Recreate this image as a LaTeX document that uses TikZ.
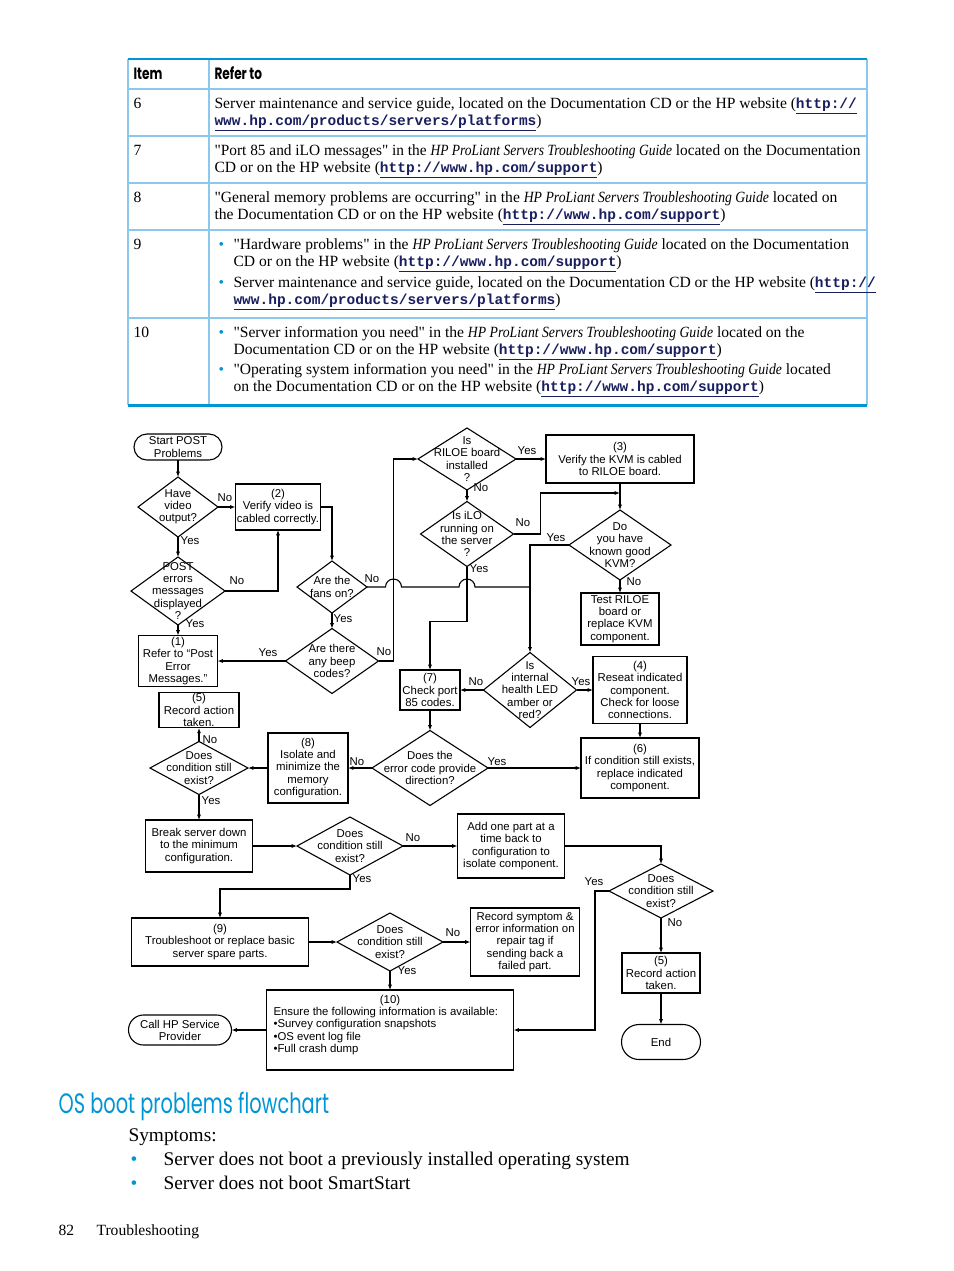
\documentclass[tikz,border=0pt]{standalone}
\usepackage{fontspec}
\usepackage{graphicx}
\usepackage{xcolor}
\setmainfont{Liberation Serif}[Ligatures=TeXOff]
\newfontfamily\flowfont{Liberation Sans}
\newfontfamily\urlfont{Liberation Mono}
\newfontfamily\headfont{Poppins}
\usetikzlibrary{arrows.meta, shapes.geometric}

\definecolor{hpblue}{RGB}{0,150,214}
\definecolor{hpline}{RGB}{140,200,235}
\definecolor{urlblue}{RGB}{25,30,95}
\newcommand{\pxu}{0.6414pt}
\newcommand{\hpurl}[1]{{\urlfont\bfseries\fontsize{9.3}{11}\selectfont\color{urlblue}\underline{#1}}}
\newcommand{\hpguide}{\textit{\scalebox{0.88}[1]{HP ProLiant Servers Troubleshooting Guide}}}
\newcommand{\hpbul}{{\color{hpblue}\textbullet}}

\tikzset{every picture/.style={x=\pxu,y=-\pxu,line width=0.7pt}}
\tikzset{
  flow/.style={font=\flowfont\fontsize{7.3}{7.8}\selectfont, align=center, inner sep=1pt},
  box/.style 2 args={flow, draw, rectangle, outer sep=0pt, minimum width=#1*\pxu, minimum height=#2*\pxu},
  term/.style 2 args={box={#1}{#2}, rounded corners=#2*0.32pt},
  dia/.style n args={3}{diamond, draw, inner sep=0pt, outer sep=0pt, minimum width=#1*\pxu, minimum height=#2*\pxu, label={[flow]center:#3}},
  yesno/.style={flow, inner sep=0pt},
  arr/.style={-{Latex[length=3.4pt,width=2.6pt]}},
  tbl/.style={anchor=base west, inner sep=0pt, font=\fontsize{10}{12}\selectfont},
  tblhead/.style={anchor=base west, inner sep=0pt, font=\headfont\bfseries\fontsize{10.5}{12}\selectfont},
  tblrule/.style={hpline, line width=1.5*\pxu},
  page/.style={anchor=base west, inner sep=0pt, font=\fontsize{12.4}{15}\selectfont}
}

\begin{document}
\begin{tikzpicture}
  \fill[white] (0,0) rectangle (954,1271);
  \useasboundingbox (0,0) rectangle (954,1271);

  % Table of references
  \foreach \y in {89,136,183,230,318} \draw[tblrule] (128,\y) -- (867,\y);
  \foreach \x in {128,209,867} \draw[tblrule] (\x,59) -- (\x,405);
  \draw[hpblue, line width=2.5*\pxu] (128,59) -- (867,59);
  \draw[hpblue, line width=3*\pxu] (128,405) -- (867,405);

  \node[tblhead] (h_item) at (133,79) {\scalebox{0.74}[1]{Item}};
  \node[tblhead] (h_refer) at (214,79) {\scalebox{0.74}[1]{Refer to}};

  \node[tbl] (n6) at (133,108) {6};
  \node[tbl] (r6a) at (214,108) {Server maintenance and service guide, located on the Documentation CD or the HP website (\hpurl{http://}};
  \node[tbl] (r6b) at (214,125) {\hpurl{www.hp.com/products/servers/platforms})};

  \node[tbl] (n7) at (133,155) {7};
  \node[tbl] (r7a) at (214,155) {\scalebox{0.985}[1]{"Port 85 and iLO messages" in the \hpguide{} located on the Documentation}};
  \node[tbl] (r7b) at (214,172) {CD or on the HP website (\hpurl{http://www.hp.com/support})};

  \node[tbl] (n8) at (133,202) {8};
  \node[tbl] (r8a) at (214,202) {"General memory problems are occurring" in the \hpguide{} located on};
  \node[tbl] (r8b) at (214,219) {the Documentation CD or on the HP website (\hpurl{http://www.hp.com/support})};

  \node[tbl] (n9) at (133,249) {9};
  \node[tbl] (b9a) at (218,249) {\hpbul};
  \node[tbl] (r9a) at (233,249) {"Hardware problems" in the \hpguide{} located on the Documentation};
  \node[tbl] (r9b) at (233,266) {CD or on the HP website (\hpurl{http://www.hp.com/support})};
  \node[tbl] (b9b) at (218,287) {\hpbul};
  \node[tbl] (r9c) at (233,287) {Server maintenance and service guide, located on the Documentation CD or the HP website (\hpurl{http://}};
  \node[tbl] (r9d) at (233,304) {\hpurl{www.hp.com/products/servers/platforms})};

  \node[tbl] (n10) at (133,337) {10};
  \node[tbl] (b10a) at (218,337) {\hpbul};
  \node[tbl] (r10a) at (233,337) {"Server information you need" in the \hpguide{} located on the};
  \node[tbl] (r10b) at (233,354) {Documentation CD or on the HP website (\hpurl{http://www.hp.com/support})};
  \node[tbl] (b10b) at (218,374) {\hpbul};
  \node[tbl] (r10c) at (233,374) {"Operating system information you need" in the \hpguide{} located};
  \node[tbl] (r10d) at (233,391) {on the Documentation CD or on the HP website (\hpurl{http://www.hp.com/support})};

  % Flowchart nodes
  \node[term={88}{26}] (start) at (178,447) {Start POST\\Problems};
  \node[dia={80}{60}{Have\\video\\output?}] (d_video) at (178,507) {};
  \node[box={85}{46}] (b_verify) at (278,507) {(2)\\Verify video is\\cabled correctly.};
  \node[dia={94}{68}{POST\\errors\\messages\\displayed\\?}] (d_post) at (178,591) {};
  \node[box={79}{51}] (b_post) at (178,661) {(1)\\Refer to “Post\\Error\\Messages.”};
  \node[dia={70}{52}{Are the\\fans on?}] (d_fans) at (332,587) {};
  \node[dia={93}{65}{Are there\\any beep\\codes?}] (d_beep) at (332,661) {};
  \node[dia={98}{62}{Is\\RILOE board\\installed\\?}] (d_riloe) at (467,459) {};
  \node[box={148}{48}] (b_kvm) at (620,459) {(3)\\Verify the KVM is cabled\\to RILOE board.};
  \node[dia={93}{65}{Is iLO\\running on\\the server\\?}] (d_ilo) at (467,534) {};
  \node[dia={102}{70}{Do\\you have\\known good\\KVM?}] (d_kvm) at (620,545) {};
  \node[box={78}{52}] (b_test) at (620,619) {Test RILOE\\board or\\replace KVM\\component.};
  \node[box={60}{40}] (b_port) at (430,690) {(7)\\Check port\\85 codes.};
  \node[dia={93}{75}{Is\\internal\\health LED\\amber or\\red?}] (d_led) at (530,690) {};
  \node[box={94}{67}] (b_reseat) at (640,690) {(4)\\Reseat indicated\\component.\\Check for loose\\connections.};
  \node[box={118}{60}] (b_replace) at (640,768) {(6)\\If condition still exists,\\replace indicated\\component.};
  \node[dia={116}{75}{Does the\\error code provide\\direction?}] (d_code) at (430,768) {};
  \node[box={80}{70}] (b_memory) at (308,768) {(8)\\Isolate and\\minimize the\\memory\\configuration.};
  \node[dia={98}{53}{Does\\condition still\\exist?}] (d_cond1) at (199,768) {};
  \node[box={80}{34}] (b_rec1) at (199,710) {(5)\\Record action\\taken.};
  \node[box={107}{52}] (b_break) at (199,846) {Break server down\\to the minimum\\configuration.};
  \node[dia={106}{58}{Does\\condition still\\exist?}] (d_cond2) at (350,846) {};
  \node[box={107}{64}] (b_add) at (511,846) {Add one part at a\\time back to\\configuration to\\isolate component.};
  \node[dia={104}{54}{Does\\condition still\\exist?}] (d_cond3) at (661,891) {};
  \node[box={78}{40}] (b_rec2) at (661,973) {(5)\\Record action\\taken.};
  \node[term={79}{35}] (b_end) at (661,1042) {End};
  \node[box={177}{48}] (b_spare) at (220,942) {(9)\\Troubleshoot or replace basic\\server spare parts.};
  \node[dia={106}{58}{Does\\condition still\\exist?}] (d_cond4) at (390,942) {};
  \node[box={109}{68}] (b_tag) at (525,942) {Record symptom \&\\error information on\\repair tag if\\sending back a\\failed part.};
  \node[box={247}{80}] (b_info) at (390,1030) {};
  \node[flow, anchor=north] (t_ten) at (390,993) {(10)};
  \node[flow, anchor=north west, align=left, inner sep=0pt] (t_info) at (273,1007) {Ensure the following information is available:\\•Survey configuration snapshots\\•OS event log file\\•Full crash dump};
  \node[term={103}{30}] (b_call) at (180,1030) {Call HP Service\\Provider};

  % Junctions
  \coordinate (j_led) at (530,587);
  \coordinate (j_kvm) at (620,493);

  % Draw the straight edges
  \foreach \from/\to in {
    start/d_video, d_video/d_post, d_post/b_post, d_video/b_verify,
    d_fans/d_beep, d_beep/b_post, d_riloe/d_ilo, d_riloe/b_kvm,
    b_kvm/d_kvm, d_kvm/b_test, d_led/b_port, d_led/b_reseat,
    b_reseat/b_replace, b_port/d_code, d_code/b_replace, d_code/b_memory,
    b_memory/d_cond1, d_cond1/b_rec1, d_cond1/b_break, b_break/d_cond2,
    d_cond2/b_add, d_cond3/b_rec2, b_rec2/b_end, b_spare/d_cond4,
    d_cond4/b_tag, d_cond4/b_info, b_info/b_call} \draw[arr] (\from) -- (\to);

  % Draw the bent edges
  \draw[arr] (d_post.east) -| (b_verify.south);
  \draw[arr] (b_verify.east) -| (d_fans.north);
  \draw[arr] (d_beep.east) -- ++(15,0) |- (d_riloe.west);
  \draw (d_fans.east) -- (385.5,587) arc[start angle=180,end angle=360,radius=8]
    -- (459,587) arc[start angle=180,end angle=360,radius=8] -- (j_led);
  \draw[arr] (d_kvm.west) -| (d_led.north);
  \draw[arr] (d_ilo.east) -- ++(27,0) |- (j_kvm);
  \draw[arr] (d_ilo.south) -- ++(0,55) -| (b_port.north);
  \draw[arr] (d_cond2.south) -- ++(0,14) -| (b_spare.north);
  \draw[arr] (b_add.east) -| (d_cond3.north);
  \draw[arr] (d_cond3.west) -- ++(-14,0) |- (b_info.east);

  % Yes / No labels
  \foreach \x/\y/\t [count=\i] in {
    225/498/No, 190/541/Yes, 237/581/No, 195/624/Yes,
    372/579/No, 343/619/Yes, 268/653/Yes, 384/652/No,
    527/451/Yes, 481/488/No, 523/523/No, 479/569/Yes,
    556/538/Yes, 634/582/No, 476/682/No, 581/682/Yes,
    497/762/Yes, 357/762/No, 210/740/No, 211/801/Yes,
    413/838/No, 362/879/Yes, 594/882/Yes, 675/923/No,
    453/933/No, 407/971/Yes} \node[yesno] (yn\i) at (\x,\y) {\t};

  % Section below the chart
  \node[anchor=base west, inner sep=0pt, text=hpblue, font=\headfont\fontsize{18}{20}\selectfont] (title) at (58,1113) {\scalebox{0.69}[1]{OS boot problems flowchart}};
  \node[page] (symp) at (128,1141) {Symptoms:};
  \node[page] (s1b) at (130,1165) {\hpbul};
  \node[page] (s1) at (163,1165) {Server does not boot a previously installed operating system};
  \node[page] (s2b) at (130,1189) {\hpbul};
  \node[page] (s2) at (163,1189) {Server does not boot SmartStart};
  \node[tbl] (pnum) at (58,1235) {82};
  \node[tbl] (pname) at (96,1235) {Troubleshooting};
\end{tikzpicture}
\end{document}
